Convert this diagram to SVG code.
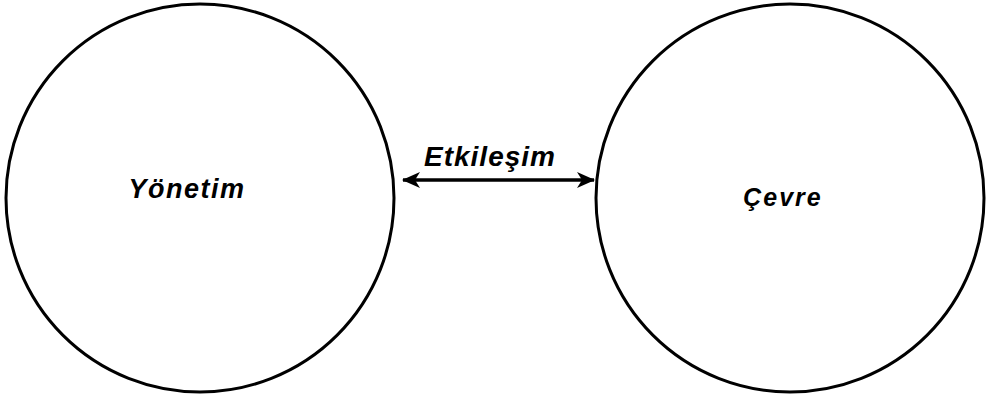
<svg xmlns="http://www.w3.org/2000/svg" width="997" height="398" viewBox="0 0 997 398">
<defs>
<style>
.node circle{fill:none;stroke:#000;stroke-width:3}
.lbl{font-family:"Liberation Sans",Arial,sans-serif;font-style:italic;font-weight:bold;fill:#000}
.conn line{stroke:#000;stroke-width:3.5}
</style>
<marker id="ah" viewBox="0 0 18 16" refX="17" refY="8" markerWidth="18" markerHeight="16" markerUnits="userSpaceOnUse" orient="auto-start-reverse">
<path d="M0,0 L18,8 L0,16 L5,8 Z" fill="#000"/>
</marker>
</defs>
<rect width="997" height="398" fill="#fff"/>
<g id="yonetim" class="node">
<circle cx="200" cy="198" r="194"/>
<text class="lbl" x="187" y="198" font-size="27" letter-spacing="1.5" text-anchor="middle">Yönetim</text>
</g>
<g id="cevre" class="node">
<circle cx="790" cy="198" r="194"/>
<text class="lbl" x="783" y="206" font-size="25" letter-spacing="2" text-anchor="middle">Çevre</text>
</g>
<g id="connectors" class="conn">
<line x1="403" y1="180" x2="594" y2="180" marker-start="url(#ah)" marker-end="url(#ah)"/>
<text class="lbl" x="490" y="166" font-size="28" letter-spacing="1" text-anchor="middle">Etkileşim</text>
</g>
</svg>
